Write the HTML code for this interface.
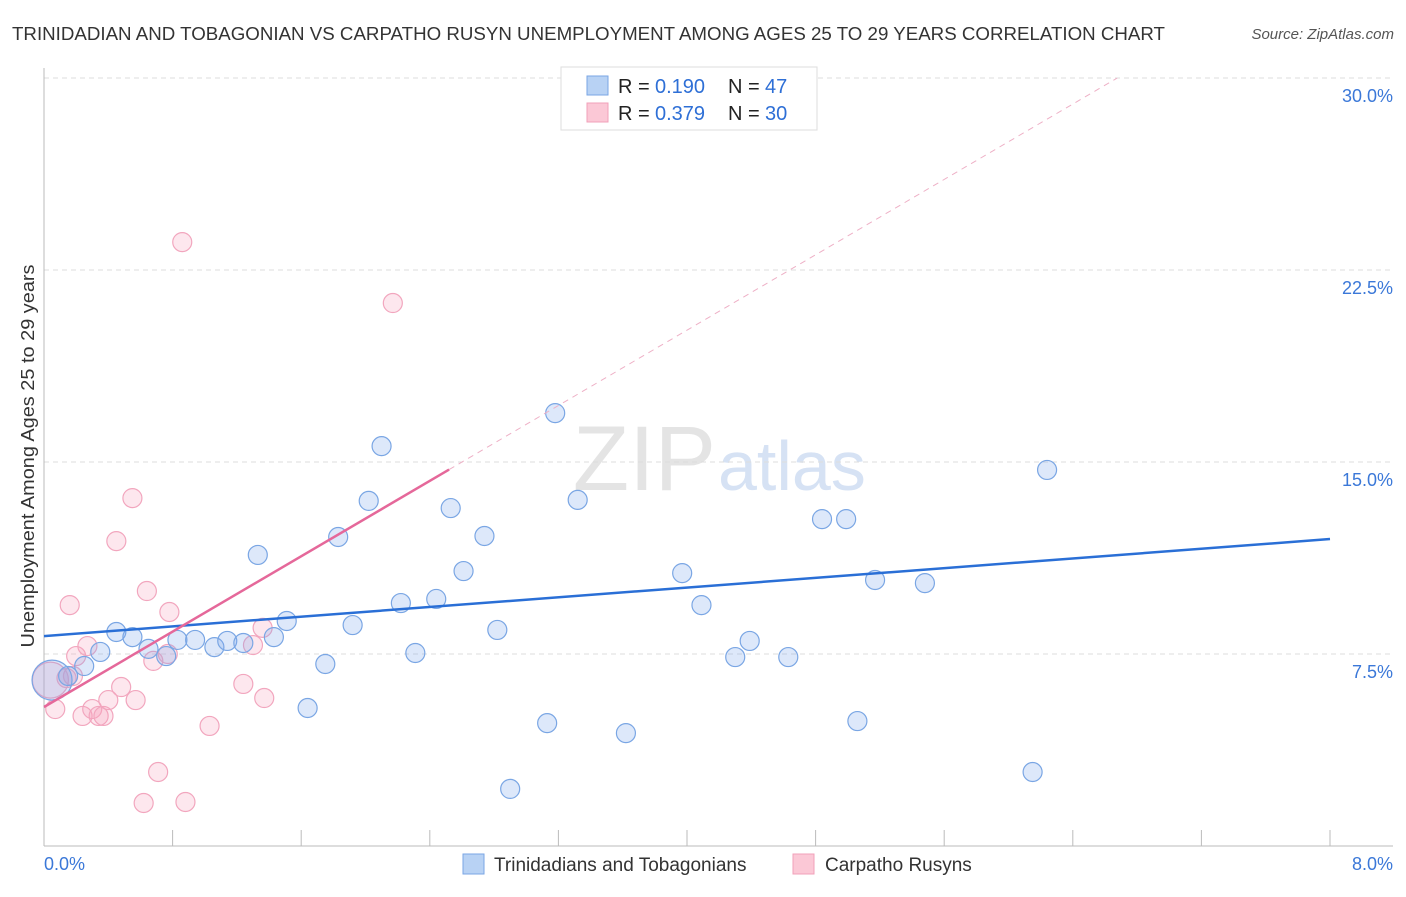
<!DOCTYPE html>
<html><head><meta charset="utf-8"><style>
body{margin:0;background:#fff;font-family:"Liberation Sans",sans-serif}
svg text{font-family:"Liberation Sans",sans-serif}
</style></head><body>
<svg id="c" width="1406" height="892">
<text x="12" y="40" font-size="18" fill="#333" textLength="1153" lengthAdjust="spacingAndGlyphs">TRINIDADIAN AND TOBAGONIAN VS CARPATHO RUSYN UNEMPLOYMENT AMONG AGES 25 TO 29 YEARS CORRELATION CHART</text>
<text x="1394" y="39" font-size="15" fill="#555" font-style="italic" text-anchor="end">Source: ZipAtlas.com</text>
<text x="716" y="490" font-size="92" fill="#e4e4e4" text-anchor="end" font-family="Liberation Serif">ZIP</text>
<text x="718" y="490" font-size="70" fill="#d6e2f4">atlas</text>
<text transform="translate(34,456) rotate(-90)" font-size="18" fill="#333" text-anchor="middle" textLength="383" lengthAdjust="spacingAndGlyphs">Unemployment Among Ages 25 to 29 years</text>
<g id="grid"></g><g id="marks"></g>
<g>
<rect x="561" y="67" width="256" height="63" fill="#fff" stroke="#ddd"/>
<rect x="587" y="76" width="21" height="19" fill="#b8d2f4" stroke="#7aa6e4"/>
<rect x="587" y="103" width="21" height="19" fill="#fbc8d6" stroke="#f2a0b9"/>
<text x="618" y="93" font-size="20" fill="#222">R =</text><text x="655" y="93" font-size="20" fill="#2e6fd6">0.190</text>
<text x="728" y="93" font-size="20" fill="#222">N =</text><text x="765" y="93" font-size="20" fill="#2e6fd6">47</text>
<text x="618" y="120" font-size="20" fill="#222">R =</text><text x="655" y="120" font-size="20" fill="#2e6fd6">0.379</text>
<text x="728" y="120" font-size="20" fill="#222">N =</text><text x="765" y="120" font-size="20" fill="#2e6fd6">30</text>
</g>
<g>
<rect x="463" y="854" width="21" height="20" fill="#b8d2f4" stroke="#7aa6e4"/>
<text x="494" y="871" font-size="19" fill="#333">Trinidadians and Tobagonians</text>
<rect x="793" y="854" width="21" height="20" fill="#fbc8d6" stroke="#f2a0b9"/>
<text x="825" y="871" font-size="19" fill="#333">Carpatho Rusyns</text>
</g>
</svg>
<script>
const xTicks=[0,0.8,1.6,2.4,3.2,4.0,4.8,5.6,6.4,7.2,8.0];
const yTicks=[7.5,15,22.5,30];
const yTickLabels=["7.5%","15.0%","22.5%","30.0%"];
const blueX=[0.05,0.15,0.25,0.35,0.45,0.55,0.65,0.76,0.83,0.94,1.06,1.14,1.24,1.33,1.43,1.51,1.64,1.75,1.83,1.92,2.02,2.10,2.22,2.31,2.44,2.53,2.61,2.74,2.82,2.90,3.13,3.18,3.32,3.62,3.97,4.09,4.30,4.39,4.63,4.84,4.99,5.06,5.17,5.48,6.15,6.24,3.78];
const blueY=[6.48,6.64,7.03,7.58,8.36,8.16,7.70,7.42,8.05,8.05,7.77,8.01,7.93,11.37,8.16,8.79,5.39,7.11,12.07,8.63,13.48,15.62,9.49,7.54,9.65,13.20,10.74,12.11,8.44,2.23,4.80,16.91,13.52,4.41,10.66,9.41,7.38,8.01,7.38,12.77,12.77,4.88,10.39,10.27,2.89,14.69,28.59];
const pinkX=[0.04,0.07,0.16,0.20,0.24,0.27,0.30,0.34,0.37,0.40,0.48,0.45,0.55,0.57,0.64,0.68,0.71,0.62,0.78,0.77,0.86,0.88,1.03,1.24,1.30,1.36,1.37,2.17,0.18,0.14];
const pinkY=[6.48,5.35,9.41,7.42,5.08,7.81,5.35,5.08,5.08,5.70,6.21,11.91,13.59,5.70,9.96,7.23,2.89,1.68,9.14,7.50,23.59,1.72,4.69,6.33,7.85,8.52,5.78,21.21,6.64,6.56];
const blueTrend=[8.20,11.99];
const pinkTrend=[5.43,3.68];
const sx=v=>44+v*1286/8, sy=v=>846-v*192/7.5;
const NS="http://www.w3.org/2000/svg";
function mk(p,t,a){const e=document.createElementNS(NS,t);for(const k in a)e.setAttribute(k,a[k]);p.appendChild(e);return e;}
const g=document.getElementById('grid'),m=document.getElementById('marks');
yTicks.forEach((v,i)=>{
 const l=mk(g,'line',{x1:44,x2:1393,y1:sy(v),y2:sy(v),stroke:'#ddd','stroke-dasharray':'5,4'});
 
 
 const t=mk(g,'text',{x:1393,y:sy(v)+24,'font-size':18,fill:'#3b78d8','text-anchor':'end'});
 t.textContent=yTickLabels[i];
 
 
});
mk(g,'line',{x1:44,x2:44,y1:68,y2:846,stroke:'#bbb'});
mk(g,'line',{x1:44,x2:1393,y1:846,y2:846,stroke:'#bbb'});
xTicks.forEach(v=>{
 const l=mk(g,'line',{x1:sx(v),x2:sx(v),y1:830,y2:846,stroke:'#bbb'});
 
 
});
[[0,"0.0%",44,'start'],[8,"8.0%",1393,'end']].forEach(d=>{
 const t=mk(g,'text',{x:d[2],y:870,'font-size':18,fill:'#3b78d8','text-anchor':d[3]});
 t.textContent=d[1];
 
 
});
pinkX.forEach((x,i)=>{
 const c=mk(m,'circle',{cx:sx(x),cy:sy(pinkY[i]),r:i==0?18:9.5,fill:'rgba(246,160,188,0.25)',stroke:'#f2a6be','stroke-width':1.2});
 
 
});
blueX.forEach((x,i)=>{
 const c=mk(m,'circle',{cx:sx(x),cy:sy(blueY[i]),r:i==0?20:9.5,fill:'rgba(120,165,235,0.25)',stroke:'#7aa6e4','stroke-width':1.2});
 
 
});
const bl=mk(m,'line',{x1:sx(0),y1:sy(blueTrend[0]),x2:sx(8),y2:sy(blueTrend[1]),stroke:'#2a6fd6','stroke-width':2.5});


const xe=2.52, xm=(30-pinkTrend[0])/pinkTrend[1];
const pl=mk(m,'line',{x1:sx(0),y1:sy(pinkTrend[0]),x2:sx(xe),y2:sy(pinkTrend[0]+pinkTrend[1]*xe),stroke:'#e5689a','stroke-width':2.5});


const pd=mk(m,'line',{x1:sx(xe),y1:sy(pinkTrend[0]+pinkTrend[1]*xe),x2:sx(xm),y2:sy(30),stroke:'#eeb0c6','stroke-width':1,'stroke-dasharray':'6,5'});


</script>
</body></html>
